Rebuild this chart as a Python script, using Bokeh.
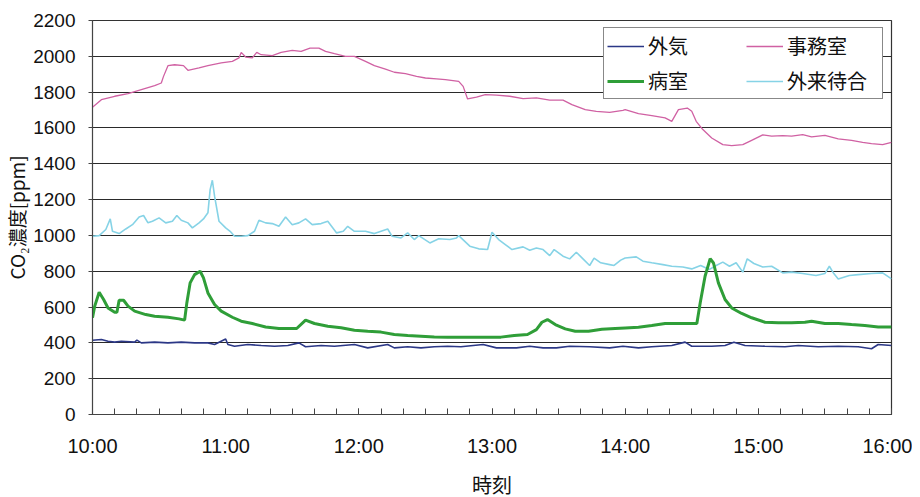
from bokeh.plotting import figure
from bokeh.models import FixedTicker, Legend, LegendItem, Range1d
from bokeh.embed import file_html
from bokeh.resources import INLINE

# ---- axis definitions (minutes after 10:00) ----
hour_ticks = [0, 60, 120, 180, 240, 300, 360]
hour_labels = ["10:00", "11:00", "12:00", "13:00", "14:00", "15:00", "16:00"]
ten_minute_ticks = list(range(0, 361, 10))
ppm_ticks = list(range(0, 2201, 200))

# ---- 外気 (outdoor air) ----
outdoor_t = [0, 4, 7, 10, 13, 19, 20, 22, 28, 34, 40, 46, 52, 55, 60, 61, 64, 70, 76, 82,
             88, 93, 96, 103, 109, 118, 124, 133, 136, 142, 148, 154, 160, 166, 176, 182,
             191, 197, 203, 209, 215, 224, 233, 239, 246, 252, 261, 267, 270, 279, 285,
             289, 294, 303, 312, 318, 327, 336, 345, 351, 354, 360]
outdoor_v = [415, 419, 409, 404, 409, 404, 415, 400, 404, 400, 404, 400, 400, 391, 422, 391,
             381, 391, 385, 381, 385, 400, 378, 385, 381, 391, 372, 391, 372, 378, 372, 378,
             381, 378, 391, 372, 372, 381, 372, 372, 381, 378, 372, 381, 372, 378, 385, 404,
             381, 381, 385, 404, 385, 381, 378, 385, 378, 381, 378, 367, 391, 385]

# ---- 事務室 (office) ----
office_t = [0, 4, 10, 16, 22, 28, 31, 32, 34, 37, 41, 43, 48, 52, 58, 63, 66, 67, 69, 72,
            74, 76, 81, 85, 90, 94, 98, 102, 105, 109, 114, 118,
            123, 127, 132, 136, 141, 146, 150, 155, 159, 165, 167, 169, 173, 177, 182, 188,
            194, 200, 206, 212, 216, 222, 227, 233, 239,
            240, 246, 252, 258, 261, 264, 268, 270, 272, 275, 279, 284, 288, 293, 297, 302,
            306, 311, 315, 320, 324, 330, 336, 342, 347, 351, 356, 360]
office_v = [1715, 1758, 1777, 1792, 1814, 1836, 1851, 1888, 1948, 1953, 1948, 1922, 1935,
            1948, 1963, 1972, 1991, 2022, 1996, 1991, 2022, 2009, 2004, 2022, 2033, 2028,
            2046, 2046, 2028, 2015, 2000, 2000,
            1972, 1948, 1929, 1911, 1903, 1888, 1879, 1874, 1870, 1860, 1832, 1762, 1772,
            1786, 1783, 1777, 1764, 1768, 1755, 1755, 1730, 1702, 1693, 1687, 1698,
            1702, 1680, 1669, 1656, 1637, 1702, 1711, 1693, 1637, 1591, 1544, 1507, 1501,
            1507, 1531, 1561, 1554, 1557, 1554, 1563, 1550, 1559, 1539, 1531, 1520, 1513,
            1507, 1520]

# ---- 病室 (patient room) ----
ward_t = [0, 1, 3, 5, 7, 10, 11, 12, 14, 16, 19, 24, 28, 34, 39, 41.5, 42.5, 44, 46, 48.5,
          50, 52, 55, 58, 63, 67, 72, 78, 84, 88, 92, 96, 100, 106, 112, 118,
          124, 130, 136, 142, 148, 154, 160, 166, 172, 178, 184, 190, 196, 200, 202.5, 205,
          208.5, 213, 217.5, 223.5, 229.5, 235.5,
          240, 246, 252, 258, 264, 270, 272.3, 273.8, 276, 278.3, 279.8, 282, 285, 288,
          292.5, 297, 303, 309, 315, 321, 324, 330, 336, 342, 348, 354, 360]
ward_v = [540, 605, 683, 642, 595, 571, 571, 638, 638, 605, 577, 558, 549, 543, 534, 527,
          623, 735, 781, 800, 763, 679, 614, 577, 543, 521, 508, 489, 480, 480, 480, 527,
          508, 493, 484, 471,
          465, 460, 447, 441, 437, 433, 432, 432, 432, 432, 432, 441, 447, 474, 515, 530,
          502, 478, 465, 465, 476, 480,
          483, 487, 497, 508, 508, 508, 508, 623, 772, 870, 846, 735, 642, 595, 564, 540,
          515, 512, 512, 515, 521, 508, 508, 502, 497, 489, 489]

# ---- 外来待合 (outpatient waiting area) ----
waiting_t = [0, 3, 6, 8, 9, 12, 15, 18, 21, 23, 25, 27, 30, 33, 36, 38, 40, 43, 45, 48,
             50, 52, 53, 54, 55, 57, 60, 62, 64, 67, 70, 73, 75, 78, 81, 84, 87, 90, 93, 96,
             99, 103, 106, 110, 113, 115, 118,
             123, 127, 133, 135, 139, 142, 145, 147, 152, 156, 161, 164, 165, 170, 174, 178,
             180, 183, 186, 189, 194, 197, 200, 203, 206, 208, 212, 215, 218, 221, 224, 226,
             229, 233, 235, 238,
             240, 245, 248, 252, 257, 261, 266, 270, 274, 278, 281, 284, 287, 290, 293, 295,
             298, 302, 306, 311, 315, 320, 326, 330, 332, 334, 336, 341, 345, 351, 356, 360]
waiting_v = [995, 999, 1033, 1092, 1023, 1010, 1036, 1060, 1103, 1111, 1070, 1079, 1098,
             1070, 1079, 1111, 1085, 1070, 1042, 1070, 1092, 1126, 1256, 1308, 1219, 1079,
             1042, 1023, 995, 995, 999, 1023, 1085, 1070, 1066, 1051, 1103, 1060, 1070,
             1092, 1060, 1066, 1079, 1014, 1023, 1051, 1023,
             1023, 1010, 1036, 995, 986, 1014, 977, 999, 958, 981, 977, 986, 999, 940, 925,
             921, 1018, 977, 949, 921, 936, 917, 930, 921, 887, 921, 884, 869, 906, 869, 832,
             873, 847, 837, 832, 862,
             874, 880, 856, 847, 837, 828, 824, 813, 832, 810, 832, 851, 828, 847, 795, 869,
             843, 824, 828, 791, 795, 787, 776, 787, 828, 787, 757, 776, 781, 787, 791, 757]

JP = "Noto Sans CJK JP"

p = figure(frame_width=799, frame_height=394, output_backend="svg", toolbar_location=None,
           x_range=Range1d(0, 360), y_range=Range1d(0, 2200),
           min_border_left=92, min_border_right=21, min_border_top=20, min_border_bottom=70)
p.background_fill_color = "white"
p.border_fill_color = "white"
p.outline_line_color = "#333333"
p.outline_line_width = 1.2

r_out = p.line(outdoor_t, outdoor_v, line_color="#2b3786", line_width=1.6)
r_off = p.line(office_t, office_v, line_color="#d061a3", line_width=1.3)
r_wait = p.line(waiting_t, waiting_v, line_color="#86d3e6", line_width=1.6)
r_ward = p.line(ward_t, ward_v, line_color="#2f9e38", line_width=3)

# x axis
xa = p.xaxis[0]
xa.ticker = FixedTicker(ticks=hour_ticks, minor_ticks=ten_minute_ticks)
xa.major_label_overrides = {t: l for t, l in zip(hour_ticks, hour_labels)}
xa.major_tick_in = 6
xa.major_tick_out = 0
xa.minor_tick_in = 6
xa.minor_tick_out = 0
xa.major_tick_line_color = "#444444"
xa.minor_tick_line_color = "#444444"
xa.axis_line_color = "#444444"
xa.major_label_standoff = 20
xa.major_label_text_font = "Liberation Sans"
xa.major_label_text_font_size = "20px"
xa.major_label_text_color = "#111111"
xa.axis_label = "時刻"
xa.axis_label_text_font = JP
xa.axis_label_text_font_style = "normal"
xa.axis_label_text_font_size = "20px"
xa.axis_label_text_color = "#111111"
xa.axis_label_standoff = 10

# y axis
ya = p.yaxis[0]
ya.ticker = FixedTicker(ticks=ppm_ticks, minor_ticks=[])
ya.major_tick_in = 0
ya.major_tick_out = 4
ya.major_tick_line_color = "#444444"
ya.axis_line_color = "#444444"
ya.major_label_standoff = 13
ya.major_label_text_font = "Liberation Sans"
ya.major_label_text_font_size = "19px"
ya.major_label_text_color = "#111111"
ya.axis_label = "CO₂濃度[ppm]"
ya.axis_label_text_font = JP
ya.axis_label_text_font_style = "normal"
ya.axis_label_text_font_size = "19px"
ya.axis_label_text_color = "#111111"
ya.axis_label_standoff = 0

p.xgrid.visible = False
p.ygrid.ticker = FixedTicker(ticks=ppm_ticks)
p.ygrid.grid_line_color = "#2a2a2a"
p.ygrid.grid_line_width = 1.2

legend = Legend(
    items=[LegendItem(label="外気", renderers=[r_out]),
           LegendItem(label="病室", renderers=[r_ward]),
           LegendItem(label="事務室", renderers=[r_off]),
           LegendItem(label="外来待合", renderers=[r_wait])],
    location=(511, 315), orientation="vertical", ncols=2,
    label_text_font=JP, label_text_font_size="20px", label_text_color="#111111",
    glyph_width=37, glyph_height=20, label_standoff=4, padding=3, spacing=6,
    label_width=92, margin=0,
    border_line_color="#111111", border_line_width=1.2,
    background_fill_color="white", background_fill_alpha=1.0,
)
p.add_layout(legend, "center")

open("out.html", "w").write(file_html(p, INLINE))
